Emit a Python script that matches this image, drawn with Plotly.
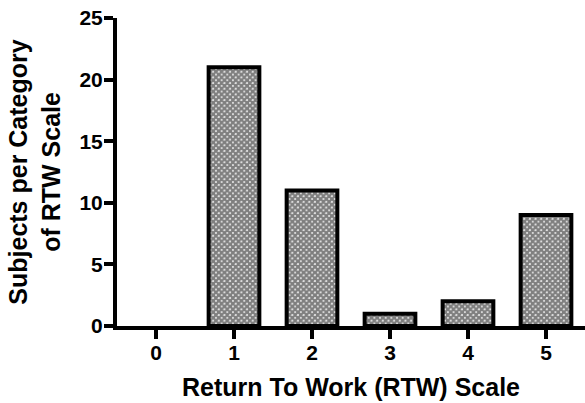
import plotly.graph_objects as go

categories = ["0", "1", "2", "3", "4", "5"]
subjects = [0, 21, 11, 1, 2, 9]
y_ticks = [0, 5, 10, 15, 20, 25]

FONT = "Liberation Sans, Arial, sans-serif"

outline_widths = [4 if v > 0 else 0 for v in subjects]

fig = go.Figure(
    go.Bar(
        x=categories,
        y=subjects,
        marker=dict(
            color="white",
            line=dict(color="black", width=outline_widths),
            pattern=dict(shape="x", size=4, solidity=0.85, fgcolor="black", bgcolor="white"),
        ),
    )
)

fig.update_layout(
    width=585,
    height=403,
    margin=dict(l=117, r=0, t=18, b=77),
    paper_bgcolor="white",
    plot_bgcolor="white",
    bargap=0.35,
    showlegend=False,
    font=dict(family=FONT, color="black", size=20, weight="bold"),
)

fig.update_xaxes(
    type="category",
    range=[-0.5, 5.5],
    showgrid=False,
    zeroline=False,
    showline=True,
    linecolor="black",
    linewidth=4,
    ticks="outside",
    ticklen=9,
    tickwidth=4,
    tickcolor="black",
    ticklabelstandoff=-4,
    tickfont=dict(family=FONT, size=21, weight="bold"),
    title=dict(text="Return To Work (RTW) Scale", font=dict(family=FONT, size=25, weight="bold"), standoff=16),
)

fig.update_yaxes(
    range=[0, 25],
    tickvals=y_ticks,
    showgrid=False,
    zeroline=False,
    showline=True,
    linecolor="black",
    linewidth=4,
    ticks="outside",
    ticklen=9,
    tickwidth=4,
    tickcolor="black",
    ticklabelstandoff=-3,
    tickfont=dict(family=FONT, size=21, weight="bold"),
    title=dict(text="Subjects per Category<br>of RTW Scale", font=dict(family=FONT, size=25, weight="bold"), standoff=13),
)

fig.write_html("out.html", config={"displayModeBar": False},
               post_script="document.body.style.margin='0';")
